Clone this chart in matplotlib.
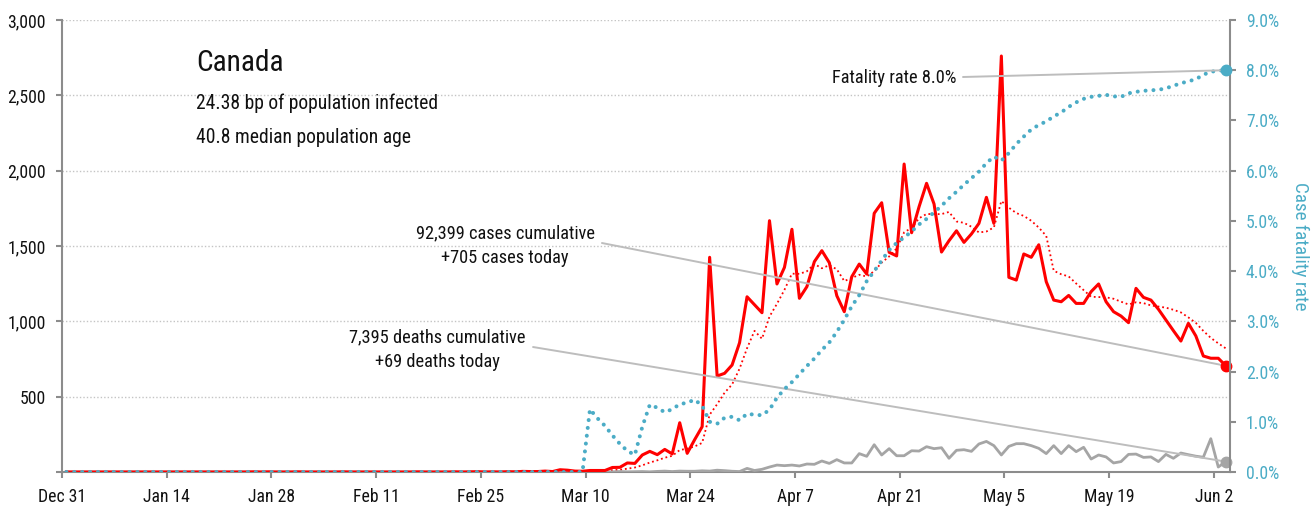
import numpy as np
import pandas as pd
import matplotlib
matplotlib.use("Agg")
import matplotlib.pyplot as plt
import matplotlib.dates as mdates
from matplotlib import font_manager
from matplotlib.ticker import FuncFormatter, MultipleLocator

# ---------------------------------------------------------------
# DATA (Canada, daily values Dec 31 2019 .. Jun 3 2020)
# ---------------------------------------------------------------
START = "2019-12-31 14:00"

cases = [0] * 25 + [
    1, 0, 1, 0, 0, 0, 1, 0, 0, 0, 0, 0, 1, 0, 0, 0,          # 25-40
    0, 0, 0, 0, 0, 0, 1, 0, 0, 0, 0, 1, 0, 1, 2, 0,          # 41-56
    1, 0, 2, 1, 4, 3, 3, 6, 3, 15, 12, 6, 5,                 # 57-69
    10, 10, 10, 30, 31, 60, 57, 113, 137, 115,               # 70-79
    150, 120, 327, 124, 215, 301, 1425, 637, 655, 710,       # 80-89
    858, 1163, 1110, 1057, 1668, 1248, 1358, 1611, 1153, 1230,   # 90-99
    1396, 1469, 1389, 1170, 1064, 1296, 1380, 1314, 1717, 1787,  # 100-109
    1458, 1434, 2044, 1588, 1761, 1916, 1779, 1460, 1535, 1601,  # 110-119
    1524, 1580, 1650, 1823, 1650, 2761, 1292, 1274, 1447, 1425,  # 120-129
    1508, 1263, 1141, 1130, 1172, 1119, 1119, 1197, 1248, 1130,  # 130-139
    1064, 1035, 991, 1219, 1159, 1141, 1080, 1009, 938, 869,     # 140-149
    987, 903, 770, 755, 755, 705,                                # 150-155
]

deaths = [0] * 70 + [
    1, 0, 0, 1, 3, 1, 2, 3, 1, 4,                # 70-79
    6, 3, 6, 5, 5, 8, 6, 12, 9, 5,               # 80-89
    3, 24, 10, 18, 33, 46, 42, 46, 40, 53,       # 90-99
    51, 73, 57, 82, 60, 60, 122, 104, 181, 113,  # 100-109
    155, 108, 108, 141, 139, 168, 155, 161, 91, 144,   # 110-119
    148, 137, 186, 203, 175, 113, 170, 188, 188, 175,  # 120-129
    157, 122, 175, 122, 175, 135, 164, 86, 113, 100,   # 130-139
    60, 69, 117, 119, 97, 100, 69, 117, 91, 126,       # 140-149
    115, 105, 98, 221, 33, 69,                         # 150-155
]

# case fatality rate in %
fatality = [0.0] * 70 + [
    1.25, 1.07, 0.92, 0.73, 0.56, 0.42, 0.34, 0.90, 1.34, 1.28,   # 70-79
    1.19, 1.25, 1.35, 1.38, 1.44, 1.32, 1.00, 0.96, 1.08, 1.10,   # 80-89
    1.03, 1.16, 1.14, 1.13, 1.24, 1.48, 1.65, 1.79, 1.95, 2.11,   # 90-99
    2.26, 2.43, 2.58, 2.79, 3.03, 3.30, 3.52, 3.80, 4.00, 4.21,   # 100-109
    4.42, 4.56, 4.67, 4.79, 4.93, 5.04, 5.17, 5.30, 5.45, 5.58,   # 110-119
    5.72, 5.85, 5.98, 6.15, 6.28, 6.20, 6.35, 6.53, 6.68, 6.82,   # 120-129
    6.91, 6.98, 7.08, 7.16, 7.27, 7.36, 7.43, 7.47, 7.49, 7.51,   # 130-139
    7.48, 7.47, 7.54, 7.57, 7.59, 7.60, 7.61, 7.64, 7.69, 7.74,   # 140-149
    7.78, 7.82, 7.91, 7.97, 7.99, 8.00,                           # 150-155
]

tick_dates = pd.date_range("2019-12-31", "2020-06-02", freq="14D")
left_ticks = [0, 500, 1000, 1500, 2000, 2500, 3000]
right_ticks = [0, 1, 2, 3, 4, 5, 6, 7, 8, 9]

title = "Canada"
sub1 = "24.38 bp of population infected"
sub2 = "40.8 median population age"
case_lbl = ["92,399 cases cumulative", "+705 cases today"]
death_lbl = ["7,395 deaths cumulative", "+69 deaths today"]
rate_lbl = "Fatality rate 8.0%"

# ---------------------------------------------------------------
# STYLE
# ---------------------------------------------------------------
RED = "#ff0000"
TEAL = "#4bacc6"
GRAY = "#a5a5a5"
LINE = "#bdbdbd"
SPINE = "#8c8c8c"
TXT = "#111111"

avail = {f.name for f in font_manager.fontManager.ttflist}
if "Roboto Condensed" in avail:
    FONT, K = "Roboto Condensed", 0.92
elif "Liberation Sans Narrow" in avail:
    FONT, K = "Liberation Sans Narrow", 1.0
else:
    FONT, K = "Liberation Sans", 0.82
plt.rcParams["font.family"] = [FONT, "DejaVu Sans"]

dates = pd.date_range(START, periods=len(cases), freq="D")
avg7 = pd.Series(cases, index=dates).rolling(7, min_periods=1).mean()

fig = plt.figure(figsize=(13.15, 5.12), dpi=100)
ax = fig.add_axes([62 / 1315, 40 / 512, 1168 / 1315, 452 / 512])
ax2 = ax.twinx()

ax.plot(dates, avg7.values, color=RED, lw=1.3, ls=(0, (1, 1.6)), zorder=3)
ax.plot(dates, deaths, color=GRAY, lw=2, zorder=3)
ax.plot(dates, cases, color=RED, lw=2.2, zorder=4)
ax2.plot(dates, fatality, color=TEAL, lw=2.9, ls=(0, (0.01, 1.95)),
         dash_capstyle="round", zorder=3)

# end markers
ax.plot(dates[-1], cases[-1], "o", color=RED, ms=7.5, clip_on=False, zorder=6)
ax.plot(dates[-1], deaths[-1], "o", color=GRAY, ms=7.5, clip_on=False, zorder=6)
ax2.plot(dates[-1], fatality[-1], "o", color=TEAL, ms=7.5, clip_on=False, zorder=6)

# axes
ax.set_xlim(pd.Timestamp("2019-12-31"), pd.Timestamp("2019-12-31") + pd.Timedelta(days=156.15))
ax.set_ylim(0, 3000)
ax2.set_ylim(0, 9)
ax.set_xticks(tick_dates)
ax.xaxis.set_major_formatter(mdates.DateFormatter("%b %-d"))
ax.set_yticks(left_ticks)
ax.yaxis.set_major_formatter(FuncFormatter(lambda v, p: "" if v == 0 else f"{v:,.0f}"))
ax2.set_yticks(right_ticks)
ax2.yaxis.set_major_formatter(FuncFormatter(lambda v, p: f"{v:.1f}%"))

ax.yaxis.grid(True, ls=(0, (1, 1.5)), color="#c4c4c4", lw=1)
ax.set_axisbelow(True)

for s in ["top", "right"]:
    ax.spines[s].set_visible(False)
for s in ["top", "left", "bottom"]:
    ax2.spines[s].set_visible(False)
for s in ["left", "bottom"]:
    ax.spines[s].set_color(SPINE)
    ax.spines[s].set_linewidth(1.5)
ax2.spines["right"].set_color(SPINE)
ax2.spines["right"].set_linewidth(1.5)

ax.tick_params(axis="both", length=4.5, width=1.5, color=SPINE, labelsize=13.8 * K,
               labelcolor=TXT, pad=7)
ax2.tick_params(axis="y", length=4.5, width=1.5, color=SPINE, labelsize=13.8 * K,
                labelcolor=TEAL, pad=7)

fig.text(1300 / 1315, 1 - 246 / 512, "Case fatality rate", rotation=270, color=TEAL,
         fontsize=15 * K, ha="center", va="center")

# title block
ax.text(0.1147, 0.905, title, transform=ax.transAxes, fontsize=23 * K, color=TXT,
        ha="left", va="center")
ax.text(0.1147, 0.816, sub1, transform=ax.transAxes, fontsize=15.4 * K, color=TXT,
        ha="left", va="center")
ax.text(0.1147, 0.741, sub2, transform=ax.transAxes, fontsize=15.4 * K, color=TXT,
        ha="left", va="center")

# annotations
ann = dict(fontsize=14.4 * K, color=TXT, ha="center", va="center", transform=ax.transAxes)
ax.text(0.3793, 0.5288, case_lbl[0], **ann)
ax.text(0.3793, 0.4735, case_lbl[1], **ann)
ax.text(0.3211, 0.2987, death_lbl[0], **ann)
ax.text(0.3211, 0.2434, death_lbl[1], **ann)
ax.text(0.7123, 0.8717, rate_lbl, **ann)

conn = dict(arrowstyle="-", color=LINE, lw=1.4, shrinkA=0, shrinkB=0)
ax.annotate("", xy=(dates[-1], cases[-1]), xytext=(0.4623, 0.5066),
            textcoords="axes fraction", arrowprops=conn, zorder=5)
ax.annotate("", xy=(dates[-1], deaths[-1]), xytext=(0.4033, 0.2765),
            textcoords="axes fraction", arrowprops=conn, zorder=5)
ax2.annotate("", xy=(dates[-1], fatality[-1]), xytext=(0.7714, 0.8739),
             textcoords="axes fraction", arrowprops=conn, zorder=5)

fig.savefig("out.png", dpi=100)
